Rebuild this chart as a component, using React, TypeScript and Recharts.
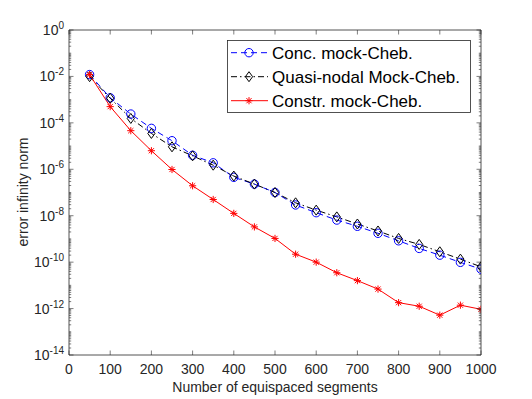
import React from 'react';
import { LineChart, Line, XAxis, YAxis } from 'recharts';

const segments = [50, 100, 150, 200, 250, 300, 350, 400, 450, 500, 550, 600, 650, 700, 750, 800, 850, 900, 950, 1000];
const concMock = [1.2e-2, 1.2e-3, 2.4e-4, 5.8e-5, 1.7e-5, 4.0e-6, 1.9e-6, 4.5e-7, 2.3e-7, 1.0e-7, 2.9e-8, 1.35e-8, 6.5e-9, 3.5e-9, 1.75e-9, 8.3e-10, 3.9e-10, 2.0e-10, 9.8e-11, 5.0e-11];
const quasiNodal = [9.8e-3, 1.15e-3, 1.55e-4, 3.5e-5, 9.3e-6, 3.8e-6, 1.5e-6, 5.1e-7, 2.3e-7, 1.0e-7, 3.6e-8, 1.74e-8, 8.9e-9, 4.4e-9, 2.2e-9, 1.05e-9, 5.8e-10, 2.8e-10, 1.35e-10, 6.3e-11];
const constrMock = [1.2e-2, 5.0e-4, 4.6e-5, 6.3e-6, 9.8e-7, 1.95e-7, 5.0e-8, 1.26e-8, 3.3e-9, 1.05e-9, 2.2e-10, 1.0e-10, 3.5e-11, 1.6e-11, 6.9e-12, 1.8e-12, 1.26e-12, 5.2e-13, 1.4e-12, 9.3e-13];

const xTicks = [0, 100, 200, 300, 400, 500, 600, 700, 800, 900, 1000];
const yMajorExps = [0, -2, -4, -6, -8, -10, -12, -14];
const seriesNames = ['Conc. mock-Cheb.', 'Quasi-nodal Mock-Cheb.', 'Constr. mock-Cheb.'];

const data = segments.map((n, i) => ({ n, conc: concMock[i], quasi: quasiNodal[i], constr: constrMock[i] }));

const yTicks: number[] = [];
for (let e = -14; e < 0; e++) {
  for (let k = 1; k <= 9; k++) yTicks.push(k * Math.pow(10, e));
}
yTicks.push(1);

const AX = '#262626';
const FONT = '"Liberation Sans", Arial, Helvetica, sans-serif';

const tickInfo = (v: number) => {
  const l = Math.log10(v);
  const r = Math.round(l);
  const isDecade = Math.abs(l - r) < 1e-6;
  const major = isDecade && yMajorExps.includes(r);
  return { major, r };
};

const LeftTick = (props: any) => {
  const { x, y, payload } = props;
  const { major, r } = tickInfo(payload.value);
  const len = major ? 4.5 : 2.2;
  return (
    <g>
      <line x1={x} x2={x + len} y1={y} y2={y} stroke={AX} strokeWidth={0.6} />
      {major && (
        <text x={x - 5} y={y + 5} textAnchor="end" fontSize={14} fill={AX} fontFamily={FONT}>
          <tspan>10</tspan>
          <tspan dy={-6} fontSize={10}>{String(r)}</tspan>
        </text>
      )}
    </g>
  );
};

const RightTick = (props: any) => {
  const { x, y, payload } = props;
  const { major } = tickInfo(payload.value);
  const len = major ? 4.5 : 2.2;
  return <line x1={x} x2={x - len} y1={y} y2={y} stroke={AX} strokeWidth={0.6} />;
};

const BottomTick = (props: any) => {
  const { x, y, payload } = props;
  return (
    <g>
      <line x1={x} x2={x} y1={y} y2={y - 4.5} stroke={AX} strokeWidth={0.6} />
      <text x={x} y={y + 19} textAnchor="middle" fontSize={14} fill={AX} fontFamily={FONT}>
        {payload.value}
      </text>
    </g>
  );
};

const TopTick = (props: any) => {
  const { x, y } = props;
  return <line x1={x} x2={x} y1={y} y2={y + 4.5} stroke={AX} strokeWidth={0.6} />;
};

const CircleMark = ({ cx, cy }: any) => <circle cx={cx} cy={cy} r={4.2} fill="none" stroke="#0000ff" strokeWidth={1} />;
const DiamondMark = ({ cx, cy }: any) => (
  <path d={`M${cx},${cy - 5} L${cx + 3.6},${cy} L${cx},${cy + 5} L${cx - 3.6},${cy} Z`} fill="none" stroke="#000" strokeWidth={1} />
);
const StarMark = ({ cx, cy }: any) => {
  const s = 3.6;
  const d = s * 0.72;
  return (
    <path
      d={`M${cx - s},${cy} L${cx + s},${cy} M${cx},${cy - s} L${cx},${cy + s} M${cx - d},${cy - d} L${cx + d},${cy + d} M${cx - d},${cy + d} L${cx + d},${cy - d}`}
      stroke="#ff0000"
      strokeWidth={1}
      fill="none"
    />
  );
};

const BLUE_DASH = '6 4';
const BLACK_DASH = '6 3 1.5 3';

const LegendBox = () => {
  const rows = [
    { color: '#0000ff', dash: BLUE_DASH, M: CircleMark },
    { color: '#000000', dash: BLACK_DASH, M: DiamondMark },
    { color: '#ff0000', dash: undefined as any, M: StarMark },
  ];
  return (
    <svg width={245} height={74} style={{ position: 'absolute', left: 219, top: 32 }}>
      <rect x={0.5} y={0.5} width={243} height={72} fill="#fff" stroke={AX} strokeWidth={0.8} />
      {rows.map((r, i) => {
        const cy = 12.7 + i * 24;
        return (
          <g key={i}>
            <line x1={4} x2={41} y1={cy} y2={cy} stroke={r.color} strokeWidth={1} strokeDasharray={r.dash} />
            <r.M cx={22} cy={cy} />
            <text x={45} y={cy + 6} fontSize={17} fill="#000" fontFamily={FONT}>
              {seriesNames[i]}
            </text>
          </g>
        );
      })}
    </svg>
  );
};

export default function App() {
  return (
    <div style={{ position: 'relative', width: 524, height: 391, background: '#fff' }}>
      <LineChart width={524} height={391} data={data} margin={{ top: 21, right: 50, bottom: 14, left: 11 }}>
        <XAxis
          xAxisId="bottom"
          dataKey="n"
          type="number"
          domain={[0, 1000]}
          ticks={xTicks}
          interval={0}
          allowDataOverflow
          orientation="bottom"
          height={30}
          tickSize={0}
          tickMargin={0}
          tick={<BottomTick />}
          axisLine={{ stroke: AX, strokeWidth: 0.8 }}
          tickLine={false}
        />
        <XAxis
          xAxisId="top"
          dataKey="n"
          type="number"
          domain={[0, 1000]}
          ticks={xTicks}
          interval={0}
          allowDataOverflow
          orientation="top"
          height={1}
          tickSize={0}
          tickMargin={0}
          tick={<TopTick />}
          axisLine={{ stroke: AX, strokeWidth: 0.8 }}
          tickLine={false}
        />
        <YAxis
          yAxisId="left"
          type="number"
          scale="log"
          domain={[1e-14, 1]}
          ticks={yTicks}
          interval={0}
          allowDataOverflow
          width={50}
          tickSize={0}
          tickMargin={0}
          tick={<LeftTick />}
          axisLine={{ stroke: AX, strokeWidth: 0.8 }}
          tickLine={false}
        />
        <YAxis
          yAxisId="right"
          orientation="right"
          type="number"
          scale="log"
          domain={[1e-14, 1]}
          ticks={yTicks}
          interval={0}
          allowDataOverflow
          width={1}
          tickSize={0}
          tickMargin={0}
          tick={<RightTick />}
          axisLine={{ stroke: AX, strokeWidth: 0.8 }}
          tickLine={false}
        />
        <Line
          xAxisId="bottom"
          yAxisId="left"
          dataKey="conc"
          stroke="#0000ff"
          strokeWidth={1}
          strokeDasharray={BLUE_DASH}
          isAnimationActive={false}
          dot={(p: any) => <CircleMark key={`c${p.index}`} cx={p.cx} cy={p.cy} />}
        />
        <Line
          xAxisId="bottom"
          yAxisId="left"
          dataKey="quasi"
          stroke="#000000"
          strokeWidth={1}
          strokeDasharray={BLACK_DASH}
          isAnimationActive={false}
          dot={(p: any) => <DiamondMark key={`d${p.index}`} cx={p.cx} cy={p.cy} />}
        />
        <Line
          xAxisId="bottom"
          yAxisId="left"
          dataKey="constr"
          stroke="#ff0000"
          strokeWidth={1}
          isAnimationActive={false}
          dot={(p: any) => <StarMark key={`s${p.index}`} cx={p.cx} cy={p.cy} />}
        />
      </LineChart>
      <div
        style={{
          position: 'absolute',
          left: 14.5,
          top: 184,
          transform: 'translate(-50%, -50%) rotate(-90deg)',
          whiteSpace: 'nowrap',
          fontFamily: FONT,
          fontSize: 14,
          color: AX,
          lineHeight: '16px',
        }}
      >
        error infinity norm
      </div>
      <div
        style={{
          position: 'absolute',
          left: 267,
          top: 378.7,
          transform: 'translate(-50%, -50%)',
          whiteSpace: 'nowrap',
          fontFamily: FONT,
          fontSize: 14,
          color: AX,
          lineHeight: '16px',
        }}
      >
        Number of equispaced segments
      </div>
      <LegendBox />
    </div>
  );
}
